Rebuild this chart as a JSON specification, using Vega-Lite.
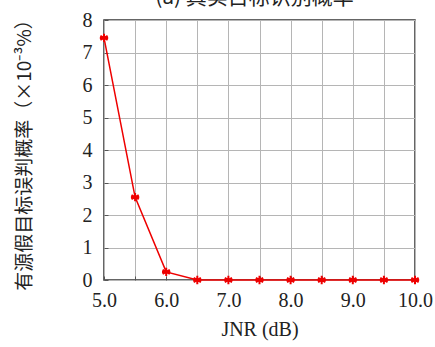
{
  "$schema": "https://vega.github.io/schema/vega-lite/v6.json",
  "width": 311,
  "height": 260,
  "autosize": {"type": "none"},
  "padding": {"left": 104, "top": 20, "right": 20, "bottom": 67},
  "background": "white",
  "title": {"text": "(a) 真实目标识别概率", "font": "Noto Sans CJK SC", "fontSize": 21, "fontWeight": "normal", "offset": 2, "color": "#222", "anchor": "middle", "dx": -5},
  "config": {
    "view": {"stroke": "#333", "strokeWidth": 1.5},
    "axis": {"labelFont": "Liberation Serif", "titleFont": "Liberation Serif", "labelColor": "#222", "titleColor": "#222", "gridColor": "#b5b5b5", "gridWidth": 1, "domain": false, "ticks": true, "tickColor": "#555", "tickSize": -4}
  },
  "data": {"values": [
    {"jnr": 5.0, "p": 7.45},
    {"jnr": 5.5, "p": 2.55},
    {"jnr": 6.0, "p": 0.25},
    {"jnr": 6.5, "p": 0},
    {"jnr": 7.0, "p": 0},
    {"jnr": 7.5, "p": 0},
    {"jnr": 8.0, "p": 0},
    {"jnr": 8.5, "p": 0},
    {"jnr": 9.0, "p": 0},
    {"jnr": 9.5, "p": 0},
    {"jnr": 10.0, "p": 0}
  ]},
  "encoding": {
    "x": {"field": "jnr", "type": "quantitative", "scale": {"domain": [5, 10], "nice": false},
      "axis": {"title": "JNR (dB)", "values": [5, 5.5, 6, 6.5, 7, 7.5, 8, 8.5, 9, 9.5, 10],
        "labelExpr": "datum.value % 1 === 0 ? format(datum.value, '.1f') : ''",
        "labelFontSize": 20, "titleFontSize": 20, "titleFontWeight": "normal", "labelPadding": 14, "titlePadding": 9, "labelFlush": false}},
    "y": {"field": "p", "type": "quantitative", "scale": {"domain": [0, 8], "nice": false},
      "axis": {"title": "有源假目标误判概率（×10⁻³%）", "titleFont": "Noto Sans CJK SC", "values": [0,1,2,3,4,5,6,7,8],
        "labelFontSize": 20, "titleFontSize": 19, "titleFontWeight": "normal", "labelPadding": 16, "titlePadding": 48}}
  },
  "layer": [
    {"mark": {"type": "line", "color": "#ee0000", "strokeWidth": 1.5}},
    {"mark": {"type": "point", "shape": "M0,-1L0,1M-0.87,-0.5L0.87,0.5M-0.87,0.5L0.87,-0.5M-1,0L1,0", "filled": false, "stroke": "#ee0000", "strokeWidth": 2, "size": 70, "opacity": 1}}
  ]
}
